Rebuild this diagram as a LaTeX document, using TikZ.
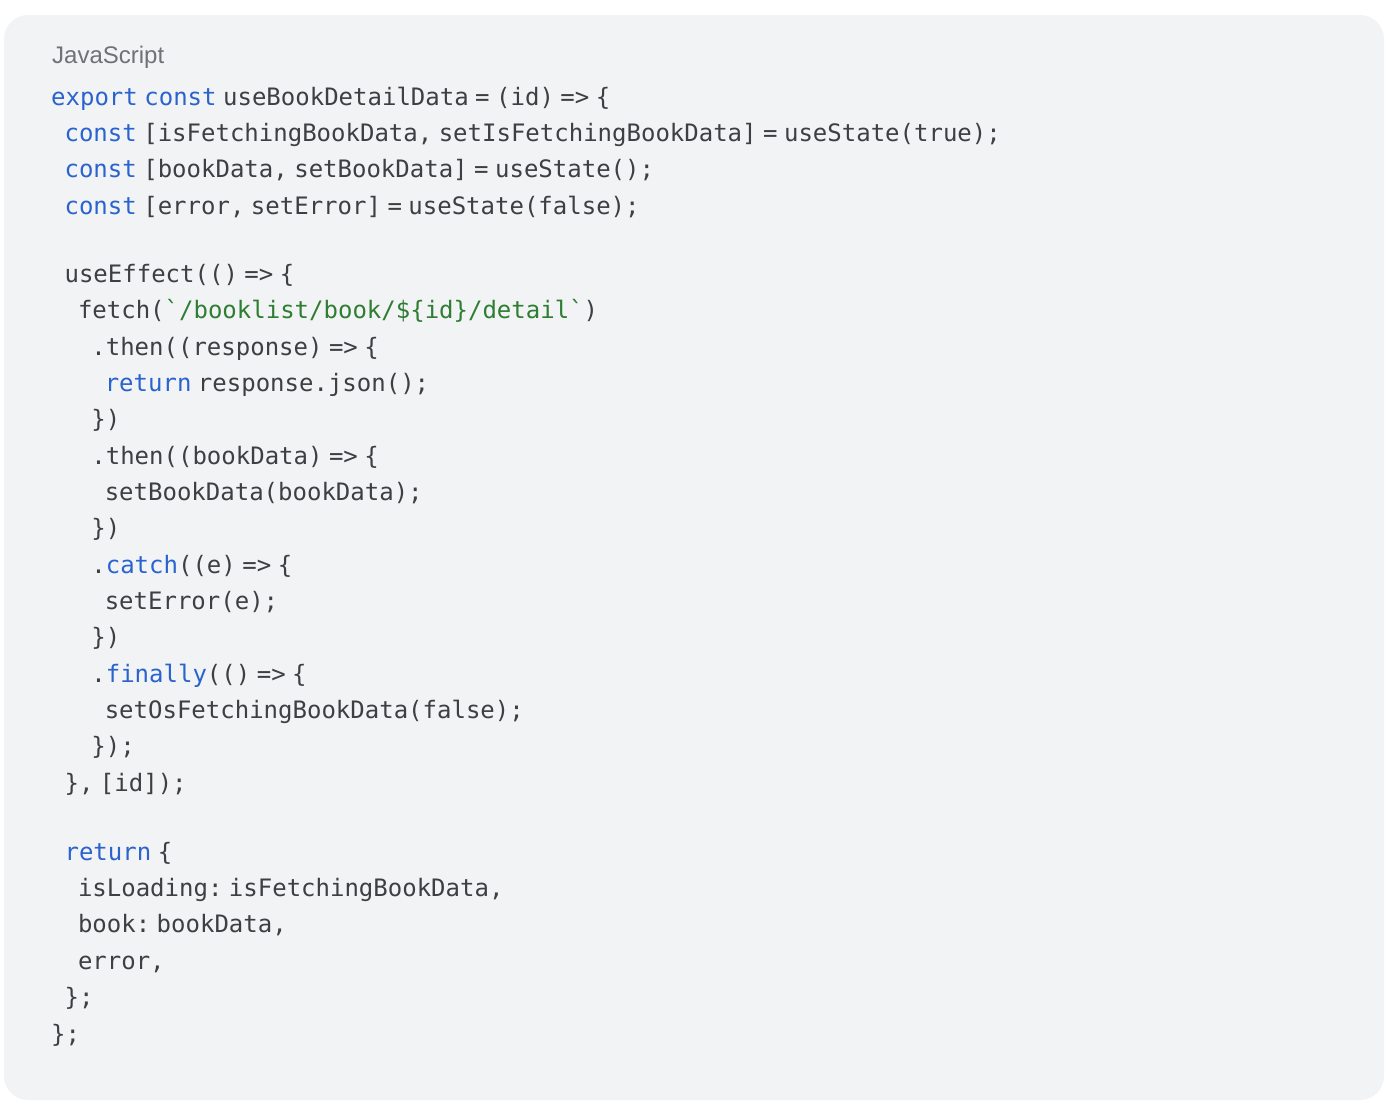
\documentclass[tikz,border=0pt]{standalone}
\usepackage{fontspec}
\setmainfont{Liberation Sans}
\setmonofont[WordSpace=0.45]{DejaVu Sans Mono}
\definecolor{panel}{HTML}{F1F3F4}
\definecolor{ink}{HTML}{3C4043}
\definecolor{kwblue}{HTML}{2A63CF}
\definecolor{strgreen}{HTML}{2E7D32}
\definecolor{langgray}{HTML}{6F7276}
\newcommand{\kw}[1]{\textcolor{kwblue}{#1}}
\newcommand{\str}[1]{\textcolor{strgreen}{#1}}
\begin{document}
\begin{tikzpicture}[x=1pt, y=-1pt,
  code/.style={anchor=base west, inner sep=0pt, text=ink, font=\ttfamily\fontsize{24}{24}\selectfont},
  lang/.style={anchor=base west, inner sep=0pt, text=langgray, font=\fontsize{24}{24}\selectfont}]
\useasboundingbox (0,0) rectangle (1392,1112);
\fill[panel, rounded corners=24pt] (4,15) rectangle (1384,1100);
\node[lang] (label) at (52,63) {JavaScript};
\node[code] (l1) at (51,105) {\kw{export} \kw{const} useBookDetailData = (id) => \{};
\node[code] (l2) at (64.4,141) {\kw{const} [isFetchingBookData, setIsFetchingBookData] = useState(true);};
\node[code] (l3) at (64.4,177) {\kw{const} [bookData, setBookData] = useState();};
\node[code] (l4) at (64.4,214) {\kw{const} [error, setError] = useState(false);};
\node[code] (l5) at (64.4,282) {useEffect(() => \{};
\node[code] (l6) at (77.8,318) {fetch(\str{`/booklist/book/\$\{id\}/detail`})};
\node[code] (l7) at (91.2,355) {.then((response) => \{};
\node[code] (l8) at (104.6,391) {\kw{return} response.json();};
\node[code] (l9) at (91.2,427) {\})};
\node[code] (l10) at (91.2,464) {.then((bookData) => \{};
\node[code] (l11) at (104.6,500) {setBookData(bookData);};
\node[code] (l12) at (91.2,536) {\})};
\node[code] (l13) at (91.2,573) {.\kw{catch}((e) => \{};
\node[code] (l14) at (104.6,609) {setError(e);};
\node[code] (l15) at (91.2,645) {\})};
\node[code] (l16) at (91.2,682) {.\kw{finally}(() => \{};
\node[code] (l17) at (104.6,718) {setOsFetchingBookData(false);};
\node[code] (l18) at (91.2,754) {\});};
\node[code] (l19) at (64.4,791) {\}, [id]);};
\node[code] (l20) at (64.4,860) {\kw{return} \{};
\node[code] (l21) at (77.8,896) {isLoading: isFetchingBookData,};
\node[code] (l22) at (77.8,932) {book: bookData,};
\node[code] (l23) at (77.8,969) {error,};
\node[code] (l24) at (64.4,1005) {\};};
\node[code] (l25) at (51,1042) {\};};
\end{tikzpicture}
\end{document}
